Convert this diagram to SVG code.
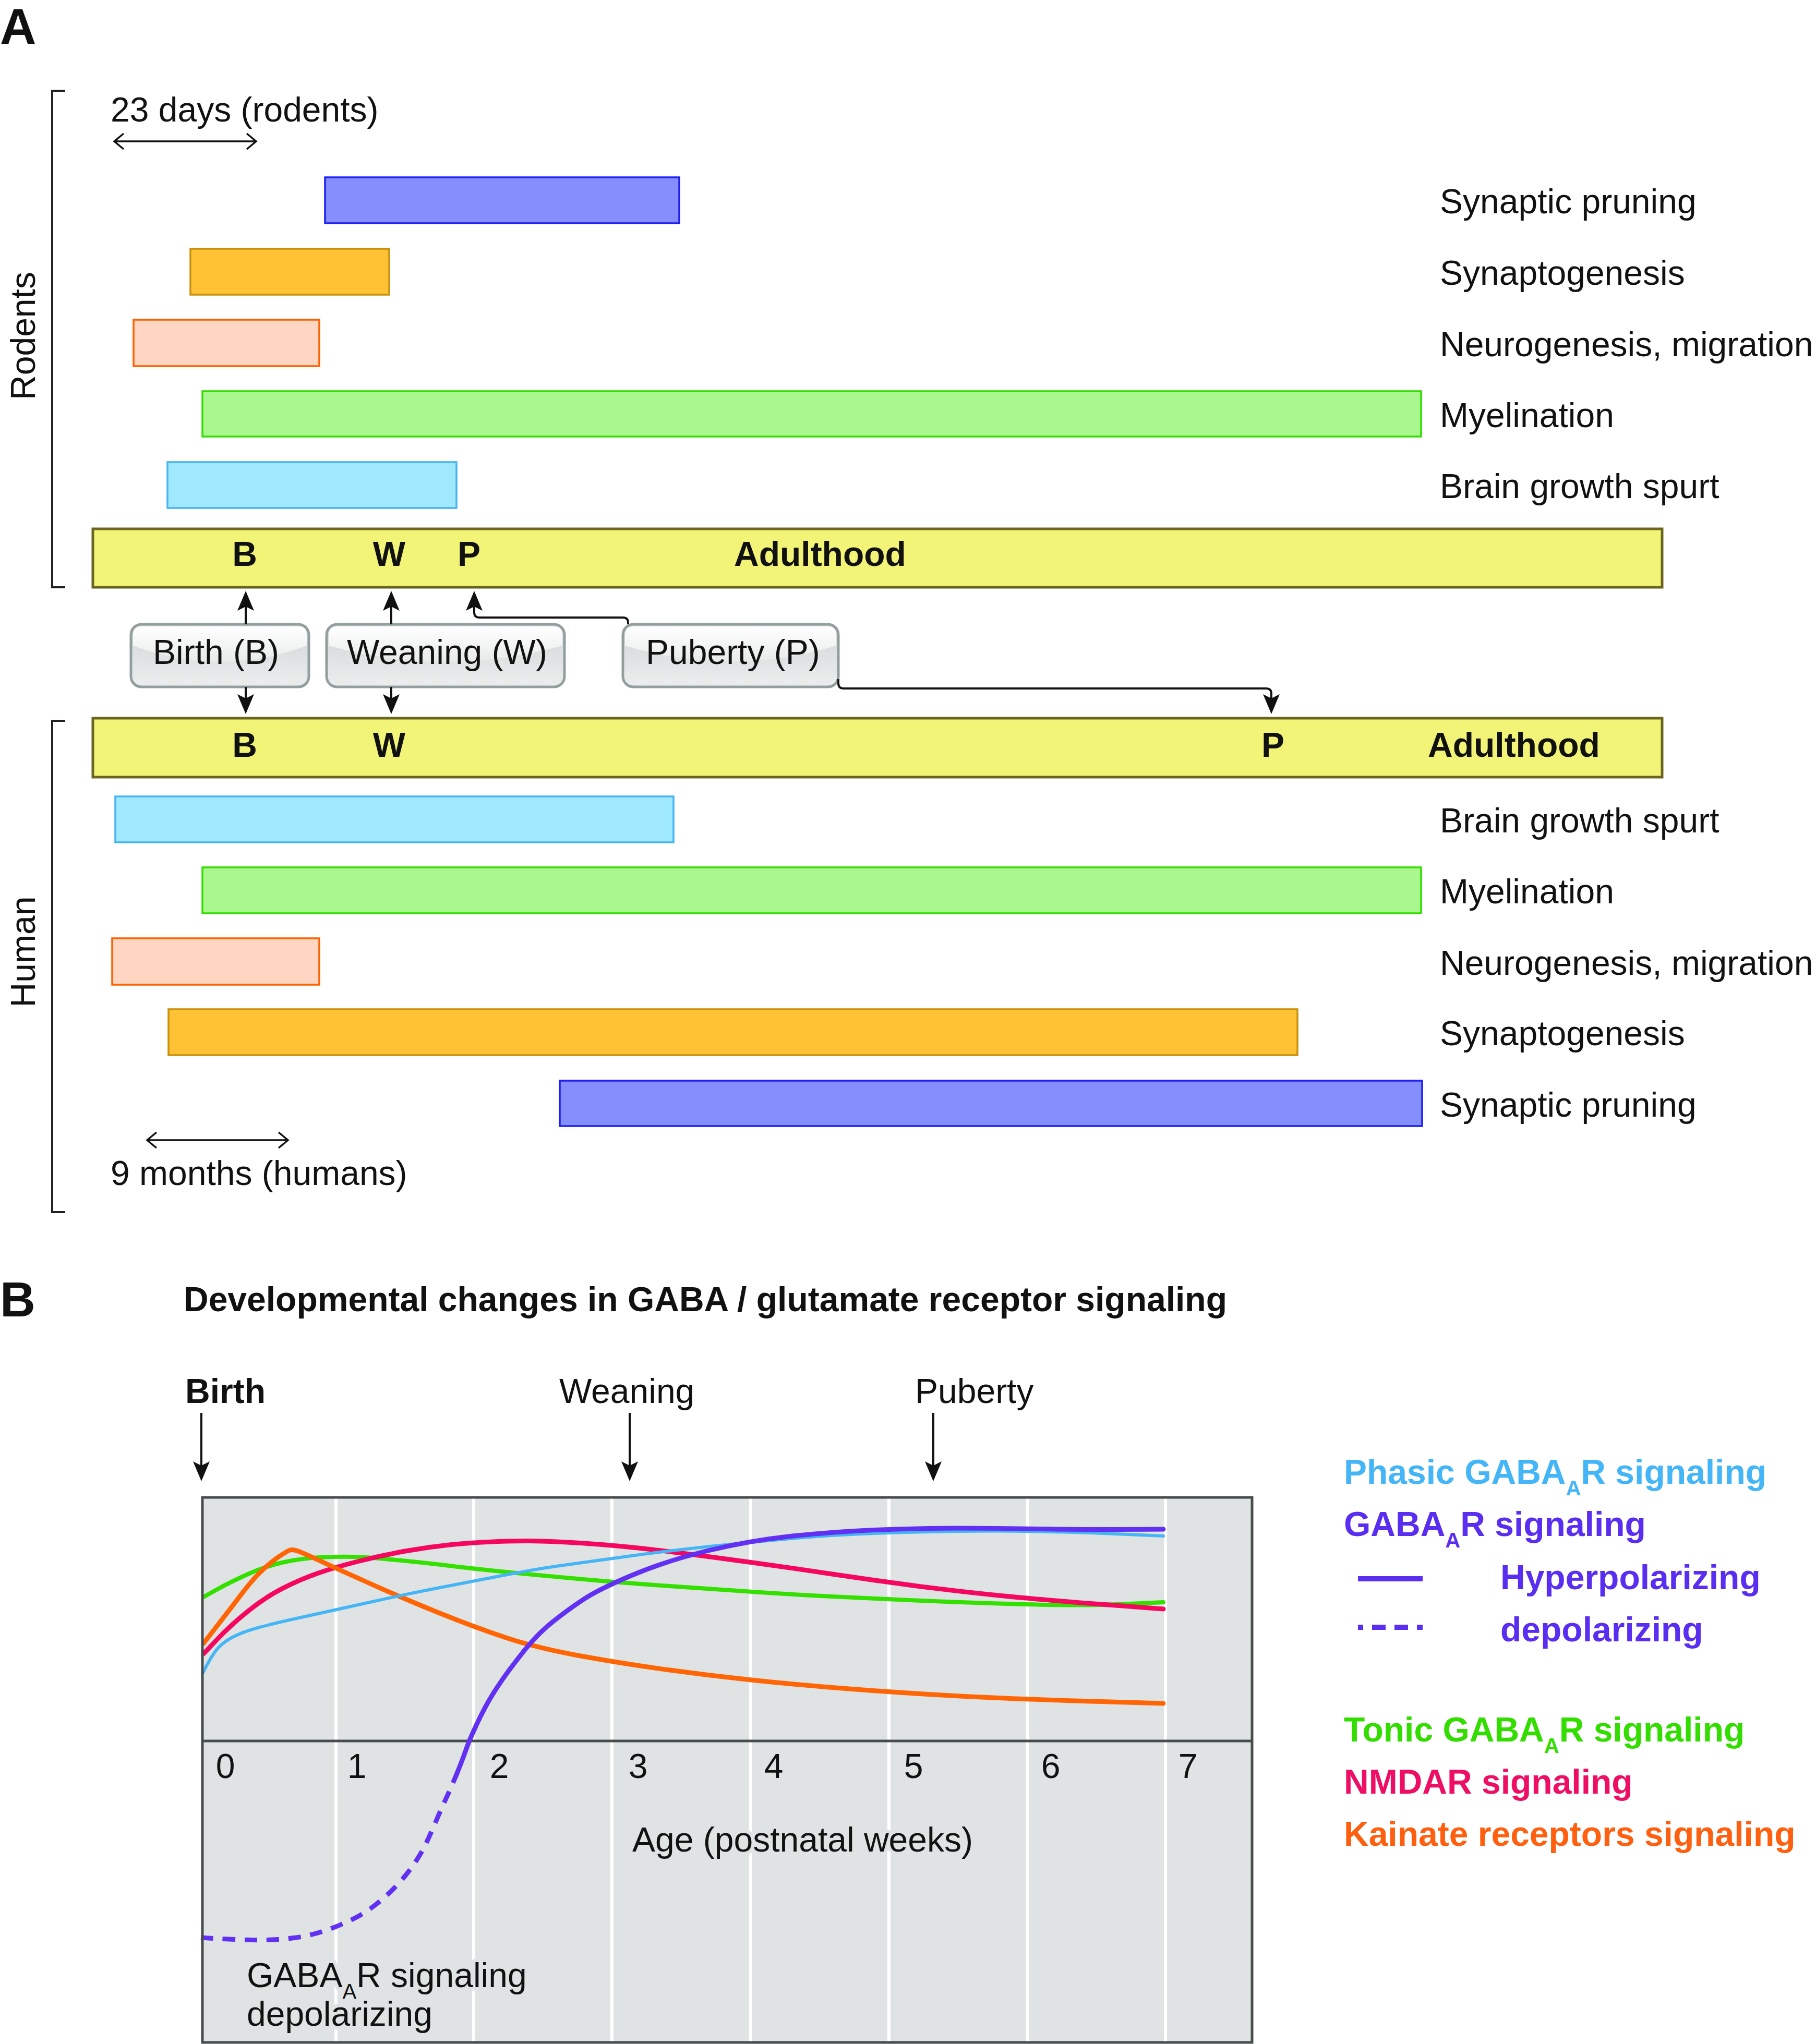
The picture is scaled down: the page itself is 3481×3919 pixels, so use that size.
<svg xmlns="http://www.w3.org/2000/svg" width="3481" height="3919" viewBox="0 0 3481 3919">
<style>
.t{font-family:"Liberation Sans",Arial,Helvetica,sans-serif;font-size:66px;fill:#111}
.b{font-weight:bold}
.lbl{font-family:"Liberation Sans",Arial,Helvetica,sans-serif;font-size:66px;fill:#111}
.bar{stroke-width:3.5}
.adult{fill:#f2f477;stroke:#6b6520;stroke-width:5}
.prune{fill:#848ffd;stroke:#1f1ff5}
.syn{fill:#fec234;stroke:#c8900c}
.neuro{fill:#fed6c1;stroke:#ff6000}
.myel{fill:#abf78f;stroke:#33dd00}
.bgs{fill:#a0e9fc;stroke:#45b4f5}
.brk{fill:none;stroke:#222;stroke-width:4}
.con{fill:none;stroke:#111;stroke-width:4;marker-end:url(#ah)}
.chev{fill:none;stroke:#111;stroke-width:3.5}
.box{fill:url(#boxg);stroke:none}
.boxo{fill:none;stroke:#939e9e;stroke-width:5}
.gloss{fill:url(#glossg)}
.grid{stroke:#fff;stroke-width:6}
.curve{fill:none;stroke-linecap:round;stroke-linejoin:round}
.halo{stroke:#dfe3e3;stroke-width:14;paint-order:stroke;stroke-linejoin:round}
</style>
<defs>
<marker id="ah" markerUnits="userSpaceOnUse" markerWidth="38" markerHeight="32" viewBox="0 0 38 32" refX="30" refY="16" orient="auto">
<path d="M0,0 L38,16 L0,32 L8,16 Z" fill="#111"/>
</marker>
<linearGradient id="boxg" x1="0" y1="0" x2="0" y2="1">
<stop offset="0" stop-color="#d0d5d5"/>
<stop offset="1" stop-color="#eceeee"/>
</linearGradient>
<linearGradient id="glossg" x1="0" y1="0" x2="0" y2="1">
<stop offset="0" stop-color="#ffffff"/>
<stop offset="1" stop-color="#e8eaea"/>
</linearGradient>
</defs>
<rect x="0" y="0" width="3481" height="3919" fill="#fff"/>

<!-- Panel A -->
<text class="t b" x="0" y="84" style="font-size:96px">A</text>

<g id="rodents-bracket">
<path class="brk" d="M125,174 H100 V1126 H125"/>
<text class="lbl" transform="translate(67,644) rotate(-90)" text-anchor="middle">Rodents</text>
</g>

<g id="rodents-scale">
<text class="lbl" x="212" y="233">23 days (rodents)</text>
<path class="chev" d="M219,271 H491 M237,256 L219,271 L237,286 M473,256 L491,271 L473,286"/>
</g>

<g id="r-pruning"><rect class="bar prune" x="623" y="340" width="679" height="88"/><text class="lbl" x="2760" y="409">Synaptic pruning</text></g>
<g id="r-synaptogenesis"><rect class="bar syn" x="365" y="477" width="381" height="88"/><text class="lbl" x="2760" y="546">Synaptogenesis</text></g>
<g id="r-neurogenesis"><rect class="bar neuro" x="256" y="613" width="356" height="89"/><text class="lbl" x="2760" y="683">Neurogenesis, migration</text></g>
<g id="r-myelination"><rect class="bar myel" x="388" y="750" width="2336" height="87"/><text class="lbl" x="2760" y="819">Myelination</text></g>
<g id="r-growth"><rect class="bar bgs" x="321" y="886" width="554" height="88"/><text class="lbl" x="2760" y="955">Brain growth spurt</text></g>
<g id="r-timeline">
<rect class="adult" x="178" y="1014" width="3008" height="112"/>
<text class="t b" x="469" y="1085" text-anchor="middle">B</text>
<text class="t b" x="746" y="1085" text-anchor="middle">W</text>
<text class="t b" x="899" y="1085" text-anchor="middle">P</text>
<text class="t b" x="1407" y="1085">Adulthood</text>
</g>

<g id="birth-box">
<rect class="box" x="251" y="1197" width="341" height="120" rx="20"/>
<path class="gloss" d="M255,1238 Q421,1300 588,1238 L588,1217 Q588,1201 572,1201 L271,1201 Q255,1201 255,1217 Z"/>
<rect class="boxo" x="251" y="1197" width="341" height="120" rx="20"/>
<text class="lbl" x="293" y="1273">Birth (B)</text>
</g>
<g id="weaning-box">
<rect class="box" x="626" y="1197" width="456" height="120" rx="20"/>
<path class="gloss" d="M630,1238 Q854,1300 1078,1238 L1078,1217 Q1078,1201 1062,1201 L646,1201 Q630,1201 630,1217 Z"/>
<rect class="boxo" x="626" y="1197" width="456" height="120" rx="20"/>
<text class="lbl" x="665" y="1273">Weaning (W)</text>
</g>
<g id="puberty-box">
<rect class="box" x="1194" y="1197" width="413" height="120" rx="20"/>
<path class="gloss" d="M1198,1238 Q1400,1300 1603,1238 L1603,1217 Q1603,1201 1587,1201 L1214,1201 Q1198,1201 1198,1217 Z"/>
<rect class="boxo" x="1194" y="1197" width="413" height="120" rx="20"/>
<text class="lbl" x="1238" y="1273">Puberty (P)</text>
</g>

<g id="connectors">
<path class="con" d="M471,1197 V1141"/>
<path class="con" d="M471,1317 V1361"/>
<path class="con" d="M750,1197 V1141"/>
<path class="con" d="M750,1317 V1361"/>
<path class="con" d="M1204,1197 V1194 Q1204,1184 1194,1184 H919 Q909,1184 909,1174 V1141"/>
<path class="con" d="M1607,1302 V1310 Q1607,1320 1617,1320 H2427 Q2437,1320 2437,1330 V1361"/>
<path class="con" d="M386,2709 V2832"/>
<path class="con" d="M1207,2709 V2832"/>
<path class="con" d="M1789,2709 V2832"/>
</g>

<g id="h-timeline">
<rect class="adult" x="178" y="1377" width="3008" height="113"/>
<text class="t b" x="469" y="1451" text-anchor="middle">B</text>
<text class="t b" x="746" y="1451" text-anchor="middle">W</text>
<text class="t b" x="2440" y="1451" text-anchor="middle">P</text>
<text class="t b" x="2737" y="1451">Adulthood</text>
</g>
<g id="h-growth"><rect class="bar bgs" x="221" y="1527" width="1070" height="88"/><text class="lbl" x="2760" y="1596">Brain growth spurt</text></g>
<g id="h-myelination"><rect class="bar myel" x="388" y="1663" width="2336" height="88"/><text class="lbl" x="2760" y="1732">Myelination</text></g>
<g id="h-neurogenesis"><rect class="bar neuro" x="215" y="1799" width="397" height="89"/><text class="lbl" x="2760" y="1869">Neurogenesis, migration</text></g>
<g id="h-synaptogenesis"><rect class="bar syn" x="323" y="1935" width="2164" height="88"/><text class="lbl" x="2760" y="2004">Synaptogenesis</text></g>
<g id="h-pruning"><rect class="bar prune" x="1073" y="2072" width="1653" height="87"/><text class="lbl" x="2760" y="2141">Synaptic pruning</text></g>

<g id="human-scale">
<path class="chev" d="M282,2186 H552 M300,2171 L282,2186 L300,2201 M534,2171 L552,2186 L534,2201"/>
<text class="lbl" x="212" y="2272">9 months (humans)</text>
</g>
<g id="human-bracket">
<path class="brk" d="M125,1382 H100 V2324 H125"/>
<text class="lbl" transform="translate(67,1825) rotate(-90)" text-anchor="middle">Human</text>
</g>

<!-- Panel B -->
<text class="t b" x="0" y="2524" style="font-size:94px">B</text>
<text class="t b" x="352" y="2514">Developmental changes in GABA / glutamate receptor signaling</text>
<text class="t b" x="355" y="2690">Birth</text>
<text class="lbl" x="1072" y="2690">Weaning</text>
<text class="lbl" x="1754" y="2690">Puberty</text>

<g id="plot">
<rect x="388" y="2871" width="2012" height="1045" fill="#dfe3e3"/>
<g class="grid">
<line x1="644" y1="2873" x2="644" y2="3914"/>
<line x1="908" y1="2873" x2="908" y2="3914"/>
<line x1="1173" y1="2873" x2="1173" y2="3914"/>
<line x1="1439" y1="2873" x2="1439" y2="3914"/>
<line x1="1704" y1="2873" x2="1704" y2="3914"/>
<line x1="1970" y1="2873" x2="1970" y2="3914"/>
<line x1="2234" y1="2873" x2="2234" y2="3914"/>
</g>
<line x1="388" y1="3338" x2="2400" y2="3338" stroke="#474d4d" stroke-width="5"/>
<g class="lbl">
<text x="432" y="3409" text-anchor="middle">0</text>
<text x="684" y="3409" text-anchor="middle">1</text>
<text x="957" y="3409" text-anchor="middle">2</text>
<text x="1223" y="3409" text-anchor="middle">3</text>
<text x="1483" y="3409" text-anchor="middle">4</text>
<text x="1751" y="3409" text-anchor="middle">5</text>
<text x="2014" y="3409" text-anchor="middle">6</text>
<text x="2277" y="3409" text-anchor="middle">7</text>
</g>
<text class="lbl halo" x="1212" y="3550">Age (postnatal weeks)</text>
<text class="lbl halo" x="473" y="3810">GABA<tspan font-size="40" dy="22">A</tspan><tspan dy="-22">R signaling</tspan><tspan x="473" y="3884">depolarizing</tspan></text>

<path id="c-tonic" class="curve" stroke="#33e000" stroke-width="8" d="M390,3062 L416,3047.5 Q442,3033 475.5,3018 Q509,3003 542.5,2995.5 Q576,2988 613.5,2986 Q651,2984 680,2985 Q709,2986 765,2991.5 Q821,2997 865.5,3002.5 Q910,3008 970,3014 Q1030,3020 1113,3027.5 Q1196,3035 1276,3040.5 Q1356,3046 1435.5,3051.5 Q1515,3057 1595,3061 Q1675,3065 1754.5,3068.5 Q1834,3072 1914,3074.5 Q1994,3077 2047,3077.5 Q2100,3078 2165,3075 L2230,3072"/>
<path id="c-nmdar" class="curve" stroke="#f5075f" stroke-width="9" d="M390,3171 L416,3143.5 Q442,3116 475.5,3089 Q509,3062 542.5,3045 Q576,3028 609,3016.5 Q642,3005 687,2993.5 Q732,2982 776.5,2974 Q821,2966 865.5,2961.5 Q910,2957 970,2955 Q1030,2953 1113,2958.5 Q1196,2964 1276,2974 Q1356,2984 1435.5,2995 Q1515,3006 1595,3018 Q1675,3030 1754.5,3040.5 Q1834,3051 1914,3059 Q1994,3067 2112,3076 L2230,3085"/>
<path id="c-kainate" class="curve" stroke="#ff6505" stroke-width="9" d="M390,3151 L416,3117.5 Q442,3084 464,3055 Q486,3026 504,3009.5 Q522,2993 535.5,2984 Q549,2975 554.5,2972.5 Q560,2970 570,2973.5 Q580,2977 611,2991.5 Q642,3006 709,3036 Q776,3066 843,3093 Q910,3120 970,3140 Q1030,3160 1113,3175 Q1196,3190 1276,3201 Q1356,3212 1435.5,3220.5 Q1515,3229 1595,3235.5 Q1675,3242 1754.5,3247 Q1834,3252 1914,3255.5 Q1994,3259 2112,3262.5 L2230,3266"/>
<path id="c-phasic" class="curve" stroke="#45b5f5" stroke-width="6" d="M388,3209 L396,3193.5 Q404,3178 414,3164.5 Q424,3151 444,3140 Q464,3129 497.5,3120 Q531,3111 586.5,3099 Q642,3087 709,3072 Q776,3057 843,3044 Q910,3031 970,3019.5 Q1030,3008 1073,3002 Q1116,2996 1196,2985 Q1276,2974 1355.5,2965.5 Q1435,2957 1515,2950 Q1595,2943 1674.5,2940 Q1754,2937 1834,2936 Q1914,2935 1993.5,2936.5 Q2073,2938 2151.5,2941.5 L2230,2945"/>
<path id="c-gaba-dep" fill="none" stroke="#6130f2" stroke-width="9" stroke-dasharray="24 18" d="M385,3715 L400.5,3716 Q416,3717 439,3718 Q462,3719 482,3719.5 Q502,3720 522.5,3719 Q543,3718 563.5,3715.5 Q584,3713 602,3708 Q620,3703 637.5,3696.5 Q655,3690 675.5,3680 Q696,3670 714,3656.5 Q732,3643 747.5,3628 Q763,3613 775.5,3598 Q788,3583 799.5,3565 Q811,3547 819.5,3528.5 Q828,3510 836.5,3490 Q845,3470 853.5,3451.5 Q862,3433 868,3419 L874,3405"/>
<path id="c-gaba-hyp" class="curve" stroke="#6130f2" stroke-width="9" d="M874,3405 L881,3387.5 Q888,3370 893.5,3354 Q899,3338 911.5,3311 Q924,3284 935,3264.5 Q946,3245 961.5,3222.5 Q977,3200 1003.5,3166.5 Q1030,3133 1059.5,3109.5 Q1089,3086 1118.5,3066.5 Q1148,3047 1212,3020 Q1276,2993 1355.5,2973.5 Q1435,2954 1515,2945.5 Q1595,2937 1674.5,2933.5 Q1754,2930 1834,2930 Q1914,2930 1993.5,2931.5 Q2073,2933 2151.5,2932.5 L2230,2932"/>
<rect x="388" y="2871" width="2012" height="1045" fill="none" stroke="#474d4d" stroke-width="5"/>
</g>

<g id="legend" class="t b">
<text x="2576" y="2845" style="fill:#44b6f7">Phasic GABA<tspan font-size="40" dy="22">A</tspan><tspan dy="-22">R signaling</tspan></text>
<text x="2576" y="2945" style="fill:#5a2ef0">GABA<tspan font-size="40" dy="22">A</tspan><tspan dy="-22">R signaling</tspan></text>
<line x1="2603" y1="3027" x2="2727" y2="3027" stroke="#5a2ef0" stroke-width="10"/>
<text x="2876" y="3047" style="fill:#5a2ef0">Hyperpolarizing</text>
<line x1="2603" y1="3120" x2="2727" y2="3120" stroke="#5a2ef0" stroke-width="10" stroke-dasharray="10 17 26 17 26 17 11"/>
<text x="2876" y="3147" style="fill:#5a2ef0">depolarizing</text>
<text x="2576" y="3339" style="fill:#33dd00">Tonic GABA<tspan font-size="40" dy="22">A</tspan><tspan dy="-22">R signaling</tspan></text>
<text x="2576" y="3439" style="fill:#ee0e63">NMDAR signaling</text>
<text x="2576" y="3539" style="fill:#ff6010">Kainate receptors signaling</text>
</g>
</svg>
